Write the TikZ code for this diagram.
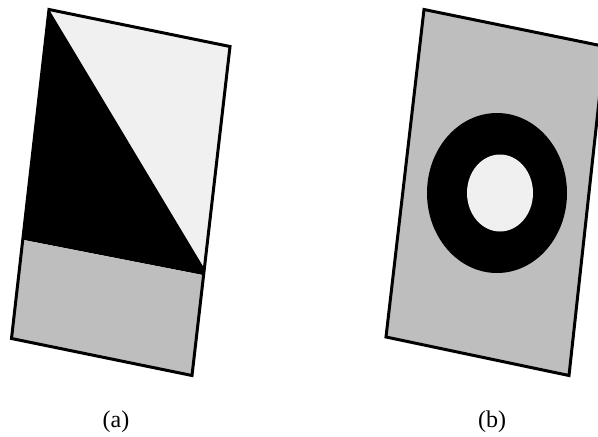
\documentclass[tikz,border=0pt]{standalone}
\usepackage{fontspec}
\setmainfont{Liberation Serif}
\definecolor{paleGray}{HTML}{F0F0F0}
\definecolor{midGray}{HTML}{BEBEBE}
\usetikzlibrary{calc}

\begin{document}
\begin{tikzpicture}[x=1pt,y=-1pt,line join=miter]
  \tikzset{frame/.style={draw=black,line width=3pt},
           caption/.style={font=\fontsize{24}{28}\selectfont,inner sep=0pt}}
  \clip (0,0) rectangle (598,437);
  \fill[white] (0,0) rectangle (598,437);
  % (a) tilted sheet with diagonal and band
  \coordinate (a1) at (49,9.5);\coordinate (a2) at (230,46.5);
  \coordinate (a3) at (192,375.5);\coordinate (a4) at (11.5,338.5);
  \coordinate (ad) at ($(a2)!0.675!(a3)$);
  \coordinate (al) at ($(a1)!0.70!(a4)$);\coordinate (ar) at ($(a2)!0.695!(a3)$);
  \fill[paleGray](a1)--(a2)--(a3)--(a4)--cycle;
  \fill[black](a1)--(ad)--(ar)--(al)--cycle;
  \fill[midGray](al)--(ar)--(a3)--(a4)--cycle;
  \draw[frame](a1)--(a2)--(a3)--(a4)--cycle;
  % (b) tilted sheet with ring
  \coordinate (b1) at (424,9.5);\coordinate (b2) at (605,46.5);
  \coordinate (b3) at (569,375.5);\coordinate (b4) at (386,337);
  \fill[midGray](b1)--(b2)--(b3)--(b4)--cycle;
  \fill[black](497,193) ellipse [x radius=70,y radius=80];
  \fill[paleGray](500,193) ellipse [x radius=33,y radius=38.5];
  \draw[frame](b1)--(b2)--(b3)--(b4)--cycle;
  \node[caption] (capa) at (116,422){(a)};
  \node[caption] (capb) at (492,422){(b)};
\end{tikzpicture}
\end{document}
